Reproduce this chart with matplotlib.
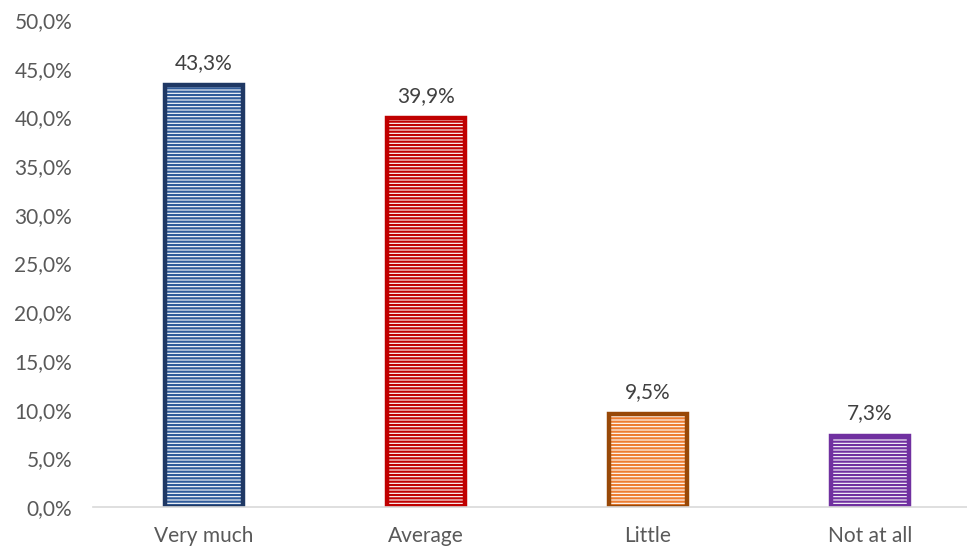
import matplotlib
matplotlib.use("Agg")
import matplotlib.pyplot as plt

categories = ["Very much", "Average", "Little", "Not at all"]
values = [43.3, 39.9, 9.5, 7.3]
labels = ["43,3%", "39,9%", "9,5%", "7,3%"]
yticks = [0, 5, 10, 15, 20, 25, 30, 35, 40, 45, 50]
ytick_labels = ["0,0%", "5,0%", "10,0%", "15,0%", "20,0%", "25,0%", "30,0%", "35,0%", "40,0%", "45,0%", "50,0%"]

edge_colors = ["#1F3864", "#C00000", "#984807", "#7030A0"]
stripe_colors = ["#2F5B9A", "#C00000", "#ED7D31", "#7030A0"]

plt.rcParams['font.family'] = ['Lato', 'DejaVu Sans']
plt.rcParams['hatch.linewidth'] = 1.6

fig = plt.figure(figsize=(9.67, 5.48), dpi=100)
ax = fig.add_axes([93/967, 41/548, 1 - 93/967, 487/548])

x = list(range(len(categories)))
w = 0.35
for i in x:
    ax.bar(i, values[i], width=w, color="white", edgecolor=stripe_colors[i],
           hatch="-----", linewidth=0)
    ax.bar(i, values[i], width=w, fill=False, edgecolor=edge_colors[i], linewidth=3.2)
    ax.annotate(labels[i], (i, values[i]), xytext=(0, 9), textcoords="offset points",
                ha="center", va="bottom", fontsize=15, color="#404040")

ax.set_xlim(-0.5, 3.437)
ax.set_ylim(0, 50)
ax.set_yticks(yticks)
ax.set_yticklabels(ytick_labels)
ax.set_xticks(x)
ax.set_xticklabels(categories)
for s in ["top", "right", "left"]:
    ax.spines[s].set_visible(False)
ax.spines["bottom"].set_color("#D9D9D9")
ax.spines["bottom"].set_linewidth(1.2)
ax.tick_params(axis="both", length=0, labelsize=15, colors="#595959")
ax.tick_params(axis="y", pad=15)
ax.tick_params(axis="x", pad=14)

fig.savefig("out.png", dpi=100)
